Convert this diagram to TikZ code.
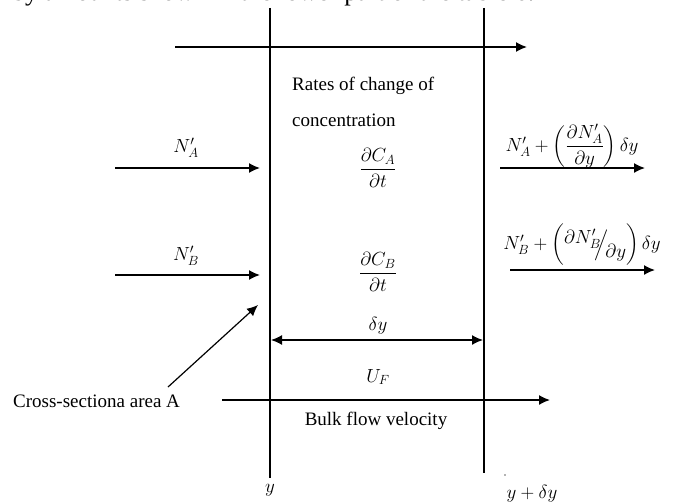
\documentclass[tikz,border=0pt]{standalone}
\usepackage{fix-cm}
\usepackage{amsmath}
\usepackage{fontspec}
\setmainfont{Liberation Serif}
\usetikzlibrary{arrows.meta}
\begin{document}
\begin{tikzpicture}[x=1pt,y=-1pt,
  wall/.style={line width=1.3pt},
  flow/.style={line width=1.6pt,-{Latex[length=11pt,width=10pt]}},
  dflow/.style={line width=1.4pt,{Latex[length=11pt,width=10pt]}-{Latex[length=11pt,width=10pt]}},
  lbl/.style={inner sep=0pt,font=\fontsize{19}{21}\selectfont},
  mlbl/.style={inner sep=0pt,font=\fontsize{19}{21}\selectfont}]
\useasboundingbox (0,0) rectangle (676,503);
% cut-off caption line at top
\node[lbl,anchor=base west,font=\fontsize{26}{28}\selectfont] (cap) at (12,1) {by amounts shown in the lower part of the table 6.1};
% walls
\coordinate (wl1) at (270,8); \coordinate (wl2) at (270,478);
\coordinate (wr1) at (484,8); \coordinate (wr2) at (484,473);
\draw[wall] (wl1) -- (wl2);
\draw[wall] (wr1) -- (wr2);
% top arrow
\coordinate (t1) at (175,47); \coordinate (t2) at (527,47);
\draw[flow] (t1) -- (t2);
% left fluxes
\coordinate (a1) at (115,168); \coordinate (a2) at (260,168);
\draw[flow] (a1) -- (a2);
\node[mlbl] (na) at (186,148) {$N'_A$};
\coordinate (b1) at (115,275); \coordinate (b2) at (260,275);
\draw[flow] (b1) -- (b2);
\node[mlbl] (nb) at (186,256) {$N'_B$};
% centre texts
\node[lbl,anchor=west] (rates) at (292,86) {Rates of change of};
\node[lbl,anchor=west] (conc) at (292,120) {concentration};
\node[mlbl] (dca) at (378,168) {$\dfrac{\partial C_A}{\partial t}$};
\node[mlbl] (dcb) at (378,272) {$\dfrac{\partial C_B}{\partial t}$};
\node[mlbl] (dy) at (378,326) {$\delta y$};
\coordinate (d1) at (271,340); \coordinate (d2) at (483,340);
\draw[dflow] (d1) -- (d2);
\node[mlbl] (uf) at (378,377) {$U_F$};
\coordinate (u1) at (222,400); \coordinate (u2) at (550,400);
\draw[flow] (u1) -- (u2);
\node[lbl] (bulk) at (376,421) {Bulk flow velocity};
% cross section label
\node[lbl,anchor=west] (cs) at (13,401) {Cross-sectiona area A};
\coordinate (cs1) at (168,387); \coordinate (cs2) at (258,305);
\draw[line width=1.2pt,-{Latex[length=11pt,width=10pt]}] (cs1) -- (cs2);
% wall labels
\node[mlbl] (yl) at (270,490) {$y$};
\node[mlbl] (yr) at (532,494) {$y+\delta y$};
\node[inner sep=0.6pt,fill=black!60,circle] (dot) at (505,475) {};
% right fluxes
\node[mlbl] (ra) at (572,146) {$N'_A+\left(\dfrac{\partial N'_A}{\partial y}\right)\delta y$};
\coordinate (ra1) at (500,168); \coordinate (ra2) at (645,168);
\draw[flow] (ra1) -- (ra2);
\node[mlbl] (rb) at (582,245) {$N'_B+\left(\vphantom{\dfrac{\partial N}{\partial y}}\raisebox{0.7ex}{$\partial N'_B$}\!\!\Big/\!\raisebox{-0.9ex}{$\partial y$}\right)\delta y$};
\coordinate (rb1) at (510,270); \coordinate (rb2) at (655,270);
\draw[flow] (rb1) -- (rb2);
\end{tikzpicture}
\end{document}
